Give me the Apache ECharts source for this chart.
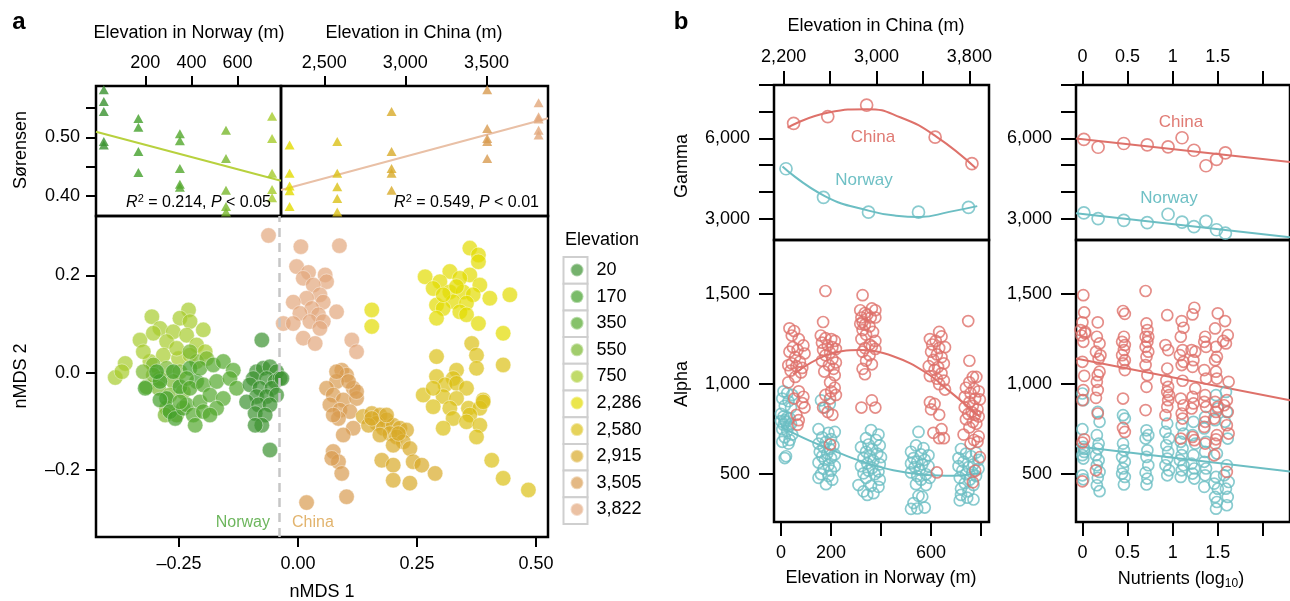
<!DOCTYPE html>
<html><head><meta charset="utf-8">
<script src="https://cdn.jsdelivr.net/npm/echarts@6/dist/echarts.min.js"></script>
<style>html,body{margin:0;padding:0;background:#fff}#c{width:1290px;height:601px}</style>
</head><body><div id="c"></div>
<script>
// ---------- DATA ----------
const elevNames = ['20','170','350','550','750','2,286','2,580','2,915','3,505','3,822'];
const norwayElev = [20,170,350,550,750];
const chinaElev = [2286,2580,2915,3505,3822];

// Sørensen dissimilarity per elevation
const sor20 = [0.581,0.561,0.544,0.493,0.487];
const sor170 = [0.532,0.517,0.476,0.440];
const sor350 = [0.506,0.494,0.447,0.420,0.415];
const sor550 = [0.512,0.464,0.410,0.382,0.373];
const sor750 = [0.536,0.498,0.439,0.411,0.397];
const sor2286 = [0.487,0.439,0.417,0.409,0.382];
const sor2580 = [0.493,0.439,0.416,0.396,0.373];
const sor2915 = [0.544,0.476,0.447,0.439,0.410];
const sor3505 = [0.581,0.515,0.498,0.493,0.464];
const sor3822 = [0.559,0.535,0.531,0.512,0.504];
const sorFitNorway = [[-13.9,0.5095],[788.7,0.4261]];
const sorFitChina = [[2233,0.4102],[3880,0.5324]];

// nMDS coordinates per elevation
const nmds20 = [[-0.076,0.067],[-0.087,0.002],[-0.073,0.009],[-0.059,0.012],[-0.045,0.002],[-0.094,-0.012],[-0.066,-0.012],[-0.048,-0.018],[-0.038,-0.012],[-0.101,-0.025],[-0.080,-0.032],[-0.055,-0.032],[-0.087,-0.049],[-0.066,-0.049],[-0.045,-0.046],[-0.108,-0.060],[-0.083,-0.066],[-0.059,-0.066],[-0.090,-0.084],[-0.069,-0.087],[-0.076,-0.108],[-0.090,-0.108],[-0.059,-0.159],[-0.034,-0.012]];
const nmds170 = [[-0.321,-0.032],[-0.290,-0.018],[-0.262,0.002],[-0.276,-0.053],[-0.269,-0.080],[-0.258,-0.094],[-0.290,-0.056],[-0.248,-0.029],[-0.297,0.002],[-0.241,-0.073],[-0.227,0.009],[-0.213,-0.018]];
const nmds350 = [[-0.234,-0.012],[-0.206,0.009],[-0.178,0.016],[-0.157,0.023],[-0.136,0.005],[-0.227,-0.032],[-0.199,-0.025],[-0.171,-0.018],[-0.143,-0.012],[-0.234,-0.066],[-0.206,-0.060],[-0.185,-0.046],[-0.157,-0.053],[-0.129,-0.032],[-0.220,-0.087],[-0.199,-0.080],[-0.171,-0.073],[-0.216,-0.108],[-0.248,-0.060],[-0.185,-0.087]];
const nmds550 = [[-0.304,0.016],[-0.276,0.009],[-0.248,0.002],[-0.290,-0.012],[-0.262,-0.018],[-0.318,-0.029],[-0.293,-0.032],[-0.269,-0.046],[-0.241,-0.039],[-0.276,-0.073],[-0.255,-0.087],[-0.279,-0.087],[-0.213,0.023],[-0.227,0.043],[-0.192,0.029],[-0.304,-0.005],[-0.325,0.002]];
const nmds750 = [[-0.307,0.115],[-0.230,0.129],[-0.248,0.112],[-0.227,0.105],[-0.199,0.088],[-0.290,0.091],[-0.332,0.067],[-0.304,0.081],[-0.262,0.084],[-0.234,0.077],[-0.276,0.064],[-0.213,0.057],[-0.311,0.023],[-0.283,0.036],[-0.251,0.029],[-0.384,-0.010],[-0.363,0.019],[-0.370,0.002],[-0.195,0.043],[-0.325,0.043],[-0.255,0.050],[-0.227,0.036]];
const nmds2286 = [[0.361,0.256],[0.379,0.242],[0.379,0.228],[0.267,0.197],[0.319,0.208],[0.361,0.201],[0.298,0.187],[0.340,0.194],[0.382,0.180],[0.284,0.173],[0.319,0.166],[0.347,0.166],[0.368,0.160],[0.403,0.153],[0.445,0.160],[0.291,0.139],[0.326,0.146],[0.354,0.143],[0.305,0.132],[0.340,0.125],[0.291,0.112],[0.354,0.119],[0.379,0.101],[0.155,0.129],[0.155,0.095],[0.431,0.081],[0.333,0.177],[0.305,0.160]];
const nmds2580 = [[0.365,0.060],[0.291,0.033],[0.375,0.036],[0.431,0.016],[0.375,0.009],[0.291,-0.008],[0.333,0.005],[0.326,-0.012],[0.309,-0.025],[0.333,-0.022],[0.354,-0.032],[0.263,-0.046],[0.305,-0.049],[0.333,-0.053],[0.284,-0.070],[0.319,-0.073],[0.358,-0.073],[0.389,-0.056],[0.382,-0.073],[0.361,-0.087],[0.326,-0.094],[0.354,-0.101],[0.382,-0.108],[0.305,-0.114],[0.375,-0.132],[0.407,-0.180],[0.431,-0.217],[0.484,-0.241],[0.284,-0.032],[0.389,-0.060]];
const nmds2915 = [[0.137,-0.090],[0.155,-0.084],[0.172,-0.087],[0.186,-0.097],[0.165,-0.104],[0.148,-0.108],[0.179,-0.114],[0.200,-0.108],[0.214,-0.114],[0.193,-0.125],[0.228,-0.118],[0.207,-0.132],[0.172,-0.128],[0.221,-0.142],[0.200,-0.149],[0.235,-0.156],[0.176,-0.180],[0.200,-0.190],[0.242,-0.183],[0.260,-0.190],[0.288,-0.207],[0.200,-0.221],[0.235,-0.227],[0.155,-0.094],[0.186,-0.087],[0.211,-0.125]];
const nmds3505 = [[0.092,0.005],[0.102,-0.005],[0.081,-0.018],[0.060,-0.032],[0.116,-0.032],[0.074,-0.046],[0.095,-0.056],[0.123,-0.053],[0.067,-0.066],[0.088,-0.077],[0.109,-0.080],[0.085,-0.094],[0.116,-0.114],[0.095,-0.128],[0.074,-0.162],[0.085,-0.183],[0.071,-0.176],[0.092,-0.207],[0.102,-0.255],[0.018,-0.267],[0.123,-0.039],[0.081,0.002],[0.106,-0.018],[0.074,-0.087]];
const nmds3822 = [[-0.062,0.282],[0.006,0.259],[0.087,0.261],[-0.003,0.218],[0.022,0.206],[0.057,0.201],[0.011,0.194],[0.060,0.187],[0.032,0.180],[0.046,0.160],[0.018,0.153],[-0.010,0.145],[0.053,0.145],[0.029,0.132],[0.081,0.125],[0.004,0.122],[0.043,0.119],[-0.031,0.101],[-0.010,0.101],[0.025,0.105],[0.053,0.105],[0.046,0.091],[0.011,0.071],[0.036,0.060],[0.113,0.067],[0.123,0.043]];
const nmdsSplit = -0.039;

// Gamma diversity
const gammaChinaElev = [[2286,6567],[2580,6820],[2915,7247],[3505,6049],[3822,5055]];
const gammaNorwayElev = [[20,4866],[170,3796],[350,3241],[550,3241],[750,3418]];
const gammaFitChinaElev = [[2234,6404],[2587,6971],[2922,7096],[3209,6782],[3509,6087],[3854,4892]];
const gammaFitNorwayElev = [[6,4953],[175,3845],[354,3290],[460,3110],[555,3063],[673,3252],[785,3467]];
const gammaChinaNut = [[0.016,5962],[0.174,5671],[0.458,5811],[0.718,5762],[0.949,5686],[1.104,6026],[1.236,5558],[1.369,4979],[1.486,5218],[1.584,5459]];
const gammaNorwayNut = [[0.016,3212],[0.174,3000],[0.458,2936],[0.718,2849],[0.949,3163],[1.104,2871],[1.236,2698],[1.369,2898],[1.486,2584],[1.584,2456]];
const gammaFitChinaNut = [[-0.071,5998],[2.3,5118]];
const gammaFitNorwayNut = [[-0.071,3198],[2.3,2302]];

// Alpha diversity
const alphaChinaElev = [
[2250,1310],[2290,1295],[2270,1270],[2330,1250],[2370,1215],[2280,1205],[2320,1190],[2250,1180],[2380,1170],[2300,1150],[2340,1125],[2240,1105],[2310,1100],[2360,1090],[2260,1075],[2350,1065],[2300,1040],[2240,1010],[2330,960],[2370,930],[2360,895],[2380,870],[2310,830],[2330,800],[2320,775],[2290,920],[2270,1115],
[2560,1517],[2540,1345],[2520,1270],[2560,1255],[2610,1250],[2640,1240],[2530,1230],[2580,1215],[2620,1205],[2650,1195],[2540,1190],[2600,1175],[2560,1160],[2620,1140],[2530,1130],[2650,1120],[2590,1105],[2630,1085],[2550,1070],[2640,1050],[2600,1010],[2640,980],[2610,960],[2650,940],[2560,940],[2600,920],[2540,870],[2580,845],[2620,830],[2600,665],
[2880,1494],[2860,1410],[2900,1395],[2960,1420],[2990,1410],[2870,1370],[2920,1385],[2880,1345],[2950,1370],[2990,1370],[2860,1335],[2900,1330],[2940,1320],[2880,1300],[2970,1290],[2910,1275],[2990,1240],[2870,1250],[2940,1220],[2900,1200],[2960,1210],[2990,1195],[2880,1180],[2940,1160],[2910,1130],[2960,1110],[2880,1085],[2900,1055],[2960,910],[2990,870],[2870,870],
[3540,1290],[3560,1265],[3460,1250],[3510,1240],[3480,1220],[3540,1200],[3590,1205],[3470,1180],[3520,1165],[3560,1150],[3490,1135],[3580,1115],[3450,1100],[3530,1095],[3500,1080],[3560,1060],[3460,1045],[3520,1030],[3580,1020],[3540,1000],[3590,970],[3460,900],[3500,890],[3470,860],[3540,830],[3490,730],[3560,750],[3540,700],[3580,700],[3520,510],
[3790,1350],[3800,1130],[3830,1040],[3860,1040],[3800,1010],[3770,980],[3840,975],[3880,960],[3810,950],[3760,930],[3850,920],[3890,915],[3800,900],[3830,880],[3760,870],[3870,860],[3820,845],[3790,835],[3850,830],[3880,820],[3770,805],[3830,790],[3860,780],[3800,760],[3750,720],[3880,710],[3840,690],[3870,680],[3810,670],[3890,595],[3850,520],[3830,455]];
const alphaNorwayElev = [
[10,960],[25,950],[45,940],[5,920],[30,905],[15,880],[40,870],[0,835],[10,820],[25,815],[35,810],[15,800],[0,795],[20,790],[40,780],[10,775],[30,765],[5,750],[25,740],[45,720],[15,705],[35,690],[5,680],[30,670],[20,600],[15,590],
[160,910],[195,890],[175,870],[150,750],[190,730],[215,735],[165,705],[200,695],[180,680],[150,670],[210,660],[170,650],[195,640],[155,625],[185,615],[215,610],[165,600],[200,590],[175,580],[150,565],[190,550],[215,545],[170,530],[200,520],[160,500],[190,490],[150,480],[205,470],[180,445],
[360,745],[390,720],[340,700],[380,690],[350,665],[395,660],[320,650],[365,640],[340,625],[385,615],[355,600],[400,595],[330,590],[370,575],[345,560],[395,555],[320,545],[365,535],[350,520],[390,515],[330,505],[375,500],[340,480],[395,470],[310,440],[360,435],[390,430],[330,405],[370,395],[345,385],
[550,735],[540,660],[570,645],[520,625],[560,610],[590,605],[530,590],[575,580],[545,570],[520,560],[565,555],[590,545],[535,540],[555,525],[520,510],[580,500],[545,490],[595,480],[560,470],[540,445],[580,440],[550,380],[565,375],[530,340],[545,310],[575,315],[520,308],
[720,640],[740,615],[780,620],[710,590],[760,600],[790,580],[730,570],[770,555],[710,545],[750,540],[790,530],[725,520],[765,510],[740,500],[780,490],[715,480],[755,470],[735,450],[770,440],[720,420],[750,405],[720,385],[745,370],[715,355],[770,360]];
const alphaFitChinaElev = [[2283,1054],[2570,1161],[2857,1189],[3143,1155],[3430,1062],[3630,960],[3890,819]];
const alphaFitNorwayElev = [[-1,763],[116,685],[200,637],[316,574],[449,522],[583,496],[689,492],[796,507]];
const alphaChinaNut = [
[0.01,1494],[0.02,1398],[0.0,1343],[-0.02,1300],[0.03,1282],[0.01,1235],[0.0,1124],[0.02,1046],[0.01,967],[0.0,911],[0.02,694],[0.0,676],[0.0,461],[0.03,1290],[-0.01,1270],
[0.17,1343],[0.16,1263],[0.19,1226],[0.15,1180],[0.2,1160],[0.18,1140],[0.19,1069],[0.17,1050],[0.16,1013],[0.17,967],[0.15,924],[0.17,837],[0.15,522],
[0.45,1406],[0.47,1390],[0.46,1263],[0.44,1235],[0.47,1217],[0.46,1189],[0.44,1161],[0.47,1133],[0.45,1115],[0.47,1078],[0.45,920],[0.45,757],[0.47,735],
[0.7,1517],[0.71,1337],[0.72,1300],[0.7,1263],[0.73,1263],[0.72,1235],[0.7,1207],[0.73,1180],[0.71,1152],[0.7,1106],[0.72,1050],[0.71,985],[0.7,856],
[0.94,1383],[0.92,1217],[0.95,1189],[0.94,1087],[0.93,1022],[0.95,985],[0.94,957],[0.96,939],[0.95,911],[0.94,874],[0.92,828],
[1.1,1350],[1.12,1313],[1.09,1263],[1.11,1189],[1.08,1161],[1.12,1124],[1.1,1106],[1.11,1019],[1.09,920],[1.12,883],[1.1,837],[1.11,809],[1.09,698],
[1.24,1424],[1.22,1387],[1.21,1189],[1.25,1180],[1.23,1133],[1.22,1096],[1.25,976],[1.22,930],[1.23,893],[1.21,865],[1.22,707],[1.24,689],
[1.36,1263],[1.35,1235],[1.37,1207],[1.35,1078],[1.37,1031],[1.36,939],[1.35,902],[1.37,874],[1.36,791],[1.35,763],[1.36,670],
[1.5,1393],[1.47,1309],[1.48,1207],[1.49,1152],[1.47,1133],[1.48,1069],[1.49,1031],[1.47,902],[1.5,874],[1.48,846],[1.46,809],[1.49,717],[1.48,694],[1.47,670],[1.46,605],
[1.58,1350],[1.61,1272],[1.59,1226],[1.62,1013],[1.6,911],[1.57,883],[1.61,846],[1.6,772],[1.62,726],[1.6,513],[1.56,1240]];
const alphaNorwayNut = [
[0.0,948],[0.01,911],[0.0,750],[0.01,652],[0.02,624],[0.0,606],[0.01,587],[0.0,494],[0.01,472],[0.02,640],
[0.17,846],[0.19,791],[0.16,717],[0.18,670],[0.17,643],[0.15,606],[0.18,578],[0.16,550],[0.19,513],[0.17,480],[0.16,439],[0.19,406],
[0.45,828],[0.47,809],[0.45,670],[0.46,633],[0.44,596],[0.47,569],[0.45,532],[0.44,504],[0.47,485],[0.46,443],
[0.71,744],[0.73,717],[0.70,698],[0.72,633],[0.71,596],[0.73,550],[0.70,509],[0.72,476],[0.71,443],
[0.94,781],[0.92,735],[0.96,698],[0.93,661],[0.95,624],[0.94,587],[0.92,550],[0.96,522],[0.94,494],
[1.1,772],[1.12,726],[1.09,680],[1.11,643],[1.1,606],[1.08,578],[1.12,550],[1.1,522],[1.09,485],
[1.23,791],[1.22,717],[1.25,670],[1.23,606],[1.21,559],[1.24,532],[1.22,504],[1.24,476],
[1.36,818],[1.35,754],[1.37,680],[1.36,624],[1.35,569],[1.37,532],[1.36,494],[1.35,430],
[1.48,939],[1.5,865],[1.47,800],[1.49,615],[1.48,485],[1.46,448],[1.5,420],[1.47,374],[1.49,346],[1.48,309],
[1.59,957],[1.6,846],[1.58,791],[1.61,698],[1.6,550],[1.57,494],[1.62,457],[1.59,420],[1.61,374],[1.6,328]];
const alphaFitChinaNut = [[-0.071,1142],[2.3,911]];
const alphaFitNorwayNut = [[-0.071,655],[2.3,515]];

// tick values
const ticksNorwayTop = [200,400,600];
const ticksChinaTop = [2500,3000,3500];
const ticksSor = [0.40,0.45,0.50,0.55];
const labelsSor = [0.40,0.50];
const ticksNmdsX = [-0.25,0,0.25,0.5];
const ticksNmdsY = [-0.2,0,0.2];
const ticksChinaB = [2200,2600,3000,3400,3800];
const labelsChinaB = [2200,3000,3800];
const ticksNorwayB = [0,200,400,600,800];
const labelsNorwayB = [0,200,600];
const ticksGamma = [3000,4000,5000,6000,7000,8000];
const labelsGamma = [3000,6000];
const ticksAlpha = [500,1000,1500];
const ticksNut = [0,0.5,1,1.5,2];
const labelsNut = [0,0.5,1,1.5];

// ---------- STYLE ----------
const FONT = '"Liberation Sans", Arial, Helvetica, sans-serif';
const FS = 18;
const groupColors = ['#3a922f','#42a02a','#52a82c','#79b82d','#a6cc2c','#e2db00','#dbc016','#d8aa28','#d89b50','#e2a77c'];
const RED = '#de716a', TEAL = '#6cbec3';
const RED_T = '#e07b74', TEAL_T = '#6fc0c5';

const sorGroups = [sor20,sor170,sor350,sor550,sor750,sor2286,sor2580,sor2915,sor3505,sor3822];
const nmdsGroups = [nmds20,nmds170,nmds350,nmds550,nmds750,nmds2286,nmds2580,nmds2915,nmds3505,nmds3822];
const comma = v => Number(v).toLocaleString('en-US');
const dash = (v,d) => (v < 0 ? '\u2013' : '') + Math.abs(v).toFixed(d);

function ax(o, ticks, labels, len, margin, fmt) {
  const base = {type:'value', axisLine:{show:false, onZero:false}, splitLine:{show:false}};
  if (ticks) {
    base.axisTick = {show:true, inside:false, length:len, lineStyle:{color:'#000', width:2}, customValues:ticks};
    base.axisLabel = {show:true, customValues:labels || ticks, margin:margin, fontSize:FS, color:'#000', fontFamily:FONT,
      formatter: fmt || (v => String(v))};
  } else {
    base.show = false;
  }
  return Object.assign(base, o);
}

const xAxis = [
  ax({gridIndex:0, position:'top', min:-13.9, max:788.7}, ticksNorwayTop, null, 10, 14),
  ax({gridIndex:1, position:'top', min:2233, max:3880}, ticksChinaTop, null, 10, 14, comma),
  ax({gridIndex:2, position:'bottom', min:-0.4244, max:0.5252}, ticksNmdsX, null, 10, 18, v => dash(v,2)),
  ax({gridIndex:3, position:'top', min:2117, max:3969}, ticksChinaB, labelsChinaB, 14, 19, comma),
  ax({gridIndex:3, position:'bottom', min:-28, max:832}),
  ax({gridIndex:4, position:'bottom', min:-28, max:832}, ticksNorwayB, labelsNorwayB, 14, 22),
  ax({gridIndex:4, position:'top', min:2117, max:3969}),
  ax({gridIndex:5, position:'top', min:-0.071, max:2.3}, ticksNut, labelsNut, 14, 19),
  ax({gridIndex:6, position:'bottom', min:-0.071, max:2.3}, ticksNut, labelsNut, 14, 22)
];
const yAxis = [
  ax({gridIndex:0, position:'left', min:0.366, max:0.5874}, ticksSor, labelsSor, 10, 16, v => v.toFixed(2)),
  ax({gridIndex:1, min:0.366, max:0.5874}),
  ax({gridIndex:2, position:'left', min:-0.3377, max:0.322}, ticksNmdsY, null, 10, 16, v => dash(v,1)),
  ax({gridIndex:3, position:'left', min:2200, max:8000}, ticksGamma, labelsGamma, 15, 24, comma),
  ax({gridIndex:4, position:'left', min:235, max:1800}, ticksAlpha, null, 15, 24, comma),
  ax({gridIndex:5, position:'left', min:2200, max:8000}, ticksGamma, labelsGamma, 15, 24, comma),
  ax({gridIndex:6, position:'left', min:235, max:1800}, ticksAlpha, null, 15, 24, comma)
];
const gb = {show:true, borderColor:'#000', borderWidth:2.5, containLabel:false};
const grid = [
  Object.assign({left:96, top:86, width:185, height:130}, gb),
  Object.assign({left:281, top:86, width:267, height:130}, gb),
  Object.assign({left:96, top:216, width:452, height:321}, gb),
  Object.assign({left:774, top:85, width:215, height:155}, gb),
  Object.assign({left:774, top:240, width:215, height:282}, gb),
  Object.assign({left:1076, top:85, width:299, height:155}, gb),
  Object.assign({left:1076, top:240, width:299, height:282}, gb)
];

const series = [];
const drawOrder = [9,8,7,6,5,4,3,1,2,0];
drawOrder.forEach((gi, k) => {
  const s = {
    name: elevNames[gi], type:'scatter', xAxisIndex:2, yAxisIndex:2, symbol:'circle', symbolSize:15.5,
    data: nmdsGroups[gi],
    itemStyle:{color:groupColors[gi], opacity:0.7, borderColor:'rgba(255,255,255,0.6)', borderWidth:1},
    emphasis:{disabled:true}, z:2
  };
  if (k === drawOrder.length - 1) {
    s.markLine = {silent:true, symbol:'none', label:{show:false}, animation:false,
      lineStyle:{color:'#c6c6c6', type:[9,6], width:2.5}, data:[{xAxis:nmdsSplit}]};
  }
  series.push(s);
});
sorGroups.forEach((vals, gi) => {
  const isNor = gi < 5;
  const e = isNor ? norwayElev[gi] : chinaElev[gi-5];
  series.push({
    name: elevNames[gi], type:'scatter', xAxisIndex: isNor?0:1, yAxisIndex: isNor?0:1,
    symbol:'triangle', symbolSize:[10,9], data: vals.map(v => [e, v]),
    itemStyle:{color:groupColors[gi], opacity:0.8}, emphasis:{disabled:true}, z:3
  });
});
function fitLine(data, xi, yi, color, smooth) {
  return {type:'line', xAxisIndex:xi, yAxisIndex:yi, data:data, showSymbol:false, symbol:'none', smooth:smooth || false,
    lineStyle:{color:color, width:2}, emphasis:{disabled:true}, z:2, silent:true};
}
series.push(fitLine(sorFitNorway, 0, 0, '#b8d13e'));
series.push(fitLine(sorFitChina, 1, 1, '#e9c0a6'));
function rings(data, xi, yi, color, size) {
  return {type:'scatter', xAxisIndex:xi, yAxisIndex:yi, data:data, symbol:'circle', symbolSize:size,
    itemStyle:{color:'rgba(0,0,0,0)', borderColor:color, borderWidth:1.7}, emphasis:{disabled:true}, z:3};
}
series.push(fitLine(gammaFitChinaElev, 3, 3, RED, 0.5));
series.push(fitLine(gammaFitNorwayElev, 4, 3, TEAL, 0.5));
series.push(rings(gammaChinaElev, 3, 3, RED, 12));
series.push(rings(gammaNorwayElev, 4, 3, TEAL, 12));
series.push(fitLine(gammaFitChinaNut, 7, 5, RED));
series.push(fitLine(gammaFitNorwayNut, 7, 5, TEAL));
series.push(rings(gammaChinaNut, 7, 5, RED, 12));
series.push(rings(gammaNorwayNut, 7, 5, TEAL, 12));
series.push(rings(alphaNorwayElev, 5, 4, TEAL, 11));
series.push(rings(alphaChinaElev, 6, 4, RED, 11));
series.push(fitLine(alphaFitChinaElev, 6, 4, RED, 0.4));
series.push(fitLine(alphaFitNorwayElev, 5, 4, TEAL, 0.4));
series.push(rings(alphaNorwayNut, 8, 6, TEAL, 11));
series.push(rings(alphaChinaNut, 8, 6, RED, 11));
series.push(fitLine(alphaFitChinaNut, 8, 6, RED));
series.push(fitLine(alphaFitNorwayNut, 8, 6, TEAL));

// ---------- TEXT / DECORATION ----------
function txt(x, y, s, o) {
  return Object.assign({type:'text', x:x, y:y, silent:true, z:10,
    style:Object.assign({text:s, fontSize:FS, fontFamily:FONT, fill:'#000', textAlign:'center', textVerticalAlign:'middle'}, (o && o.style) || {})},
    o ? {rotation:o.rotation || 0} : {});
}
const graphic = [
  txt(19, 22, 'a', {style:{fontSize:24, fontWeight:'bold'}}),
  txt(681, 22, 'b', {style:{fontSize:24, fontWeight:'bold'}}),
  txt(189, 33, 'Elevation in Norway (m)'),
  txt(414, 33, 'Elevation in China (m)'),
  txt(21, 150, 'S\u00f8rensen', {rotation:Math.PI/2}),
  txt(21, 376, 'nMDS 2', {rotation:Math.PI/2}),
  txt(322, 592, 'nMDS 1'),
  txt(876, 26, 'Elevation in China (m)'),
  txt(682, 166, 'Gamma', {rotation:Math.PI/2}),
  txt(682, 384, 'Alpha', {rotation:Math.PI/2}),
  txt(881, 578, 'Elevation in Norway (m)'),
  {type:'text', x:1181, y:579, silent:true, style:{text:'Nutrients (log{s|10})', fontSize:FS, fontFamily:FONT, fill:'#000',
    textAlign:'center', textVerticalAlign:'middle', rich:{s:{fontSize:12, fontFamily:FONT, fill:'#000', padding:[10,0,0,0]}}}},
  txt(565, 240, 'Elevation', {style:{textAlign:'left'}}),
  txt(270, 523, 'Norway', {style:{textAlign:'right', fill:'#6db65d', fontSize:16}}),
  txt(292, 523, 'China', {style:{textAlign:'left', fill:'#e2b46e', fontSize:16}}),
  {type:'text', x:271, y:203, silent:true, z:10, style:{text:'{i|R}{s|2} = 0.214, {i|P} < 0.05', fontSize:16, fontFamily:FONT, fill:'#000',
    textAlign:'right', textVerticalAlign:'middle', rich:{i:{fontStyle:'italic', fontSize:16, fontFamily:FONT}, s:{fontSize:11, fontFamily:FONT, padding:[0,0,8,0]}}}},
  {type:'text', x:539, y:203, silent:true, z:10, style:{text:'{i|R}{s|2} = 0.549, {i|P} < 0.01', fontSize:16, fontFamily:FONT, fill:'#000',
    textAlign:'right', textVerticalAlign:'middle', rich:{i:{fontStyle:'italic', fontSize:16, fontFamily:FONT}, s:{fontSize:11, fontFamily:FONT, padding:[0,0,8,0]}}}},
  txt(873, 137, 'China', {style:{fill:RED_T, fontSize:17}}),
  txt(864, 180, 'Norway', {style:{fill:TEAL_T, fontSize:17}}),
  txt(1181, 122, 'China', {style:{fill:RED_T, fontSize:17}}),
  txt(1169, 198, 'Norway', {style:{fill:TEAL_T, fontSize:17}})
];
elevNames.forEach((n, i) => {
  graphic.push({type:'rect', silent:true, z:0, shape:{x:563.5, y:257 + 26.7*i, width:24, height:26.7},
    style:{fill:'#fff', stroke:'#cfcfcf', lineWidth:2}});
});

const chart = echarts.init(document.getElementById('c'), null, {renderer:'canvas'});
chart.setOption({
  animation:false,
  backgroundColor:'#fff',
  grid: grid, xAxis: xAxis, yAxis: yAxis, series: series, graphic: graphic,
  legend:{data:elevNames, orient:'vertical', left:569.5, top:261, itemWidth:13, itemHeight:13, itemGap:8.6,
    padding:0, icon:'circle', selectedMode:false,
    textStyle:{fontSize:FS, color:'#000', fontFamily:FONT, padding:[0,0,0,8]}, z:5}
});
</script></body></html>
